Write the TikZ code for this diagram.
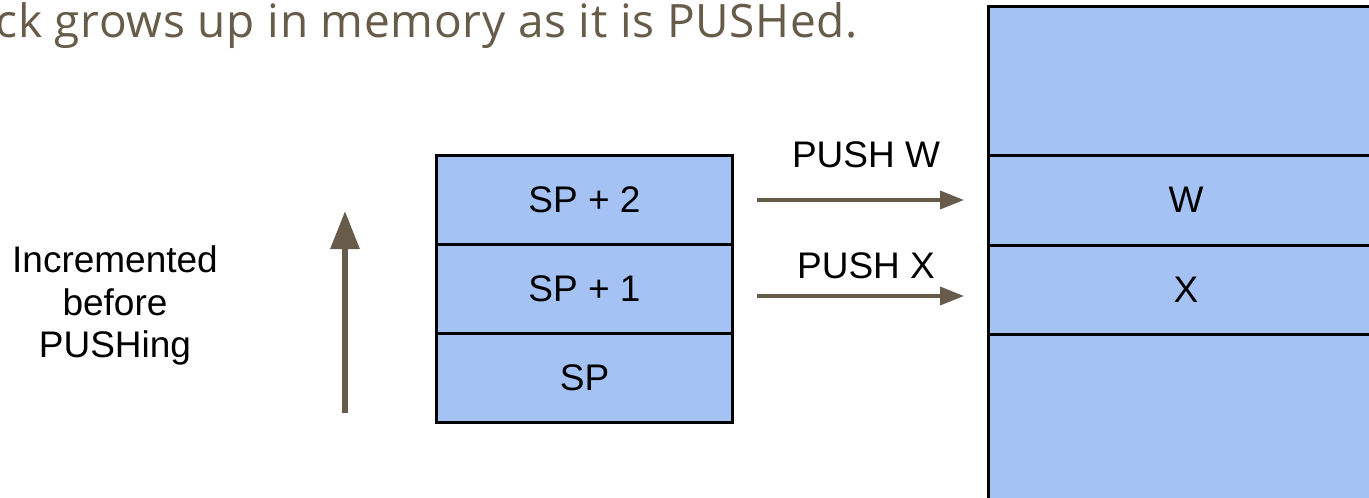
\documentclass[tikz,border=0pt]{standalone}
\usepackage{fontspec}
\setmainfont{Liberation Sans}
\newfontfamily\titlefont[LetterSpace=1.5]{Open Sans}
\usetikzlibrary{arrows.meta}
\definecolor{cellblue}{HTML}{A4C2F4}
\definecolor{brownarrow}{HTML}{675C49}
\tikzset{
  cell/.style={draw=black, line width=3pt, fill=cellblue, minimum width=296pt, inner sep=0pt, font=\fontsize{37}{37}\selectfont},
  bigcell/.style={draw=black, line width=3pt, fill=cellblue, minimum width=420pt, inner sep=0pt, font=\fontsize{37}{37}\selectfont},
  pusharrow/.style={draw=brownarrow, line width=3.5pt, -{Triangle[length=24pt,width=18pt]}},
  uparrow/.style={draw=brownarrow, line width=6pt, -{Triangle[length=38pt,width=28pt]}},
  lbl/.style={font=\fontsize{37}{42.5}\selectfont, inner sep=0pt},
}
\begin{document}
\begin{tikzpicture}[x=1pt,y=-1pt]
\useasboundingbox (0,0) rectangle (1369,498);
\clip (0,0) rectangle (1369,498);
\fill[white] (0,0) rectangle (1369,498);
% title
\node[anchor=base east, inner sep=0pt, text=brownarrow, font=\titlefont\fontsize{46}{54}\selectfont] (title) at (858,37) {ck grows up in memory as it is PUSHed.};
% left stack
\node[cell, minimum height=89pt] (sp2) at (584.5,199.5) {SP + 2};
\node[cell, minimum height=89pt] (sp1) at (584.5,289) {SP + 1};
\node[cell, minimum height=89pt] (sp0) at (584.5,378) {SP};
% right stack
\node[bigcell, minimum height=149pt] (top) at (1198,80.5) {};
\node[bigcell, minimum height=90pt] (w) at (1198,200) {};
\node[bigcell, minimum height=89pt] (x) at (1198,289.5) {};
\node[bigcell, minimum height=190pt] (bot) at (1198,429) {};
\node[lbl] (wl) at (1186,200) {W};
\node[lbl] (xl) at (1186,289.5) {X};
% left text
\node[lbl, align=center] (inc) at (115,305.5) {Incremented\\before\\PUSHing};
% up arrow
\coordinate (ua) at (345,413);
\coordinate (ub) at (345,211);
\draw[uparrow] (ua) -- (ub);
% push arrows
\coordinate (wa) at (757,200);
\coordinate (wb) at (964,200);
\coordinate (xa) at (757,296);
\coordinate (xb) at (964,296);
\draw[pusharrow] (wa) -- (wb);
\draw[pusharrow] (xa) -- (xb);
\node[lbl, anchor=base] (pw) at (866,167) {PUSH W};
\node[lbl, anchor=base] (px) at (866,278) {PUSH X};
\end{tikzpicture}
\end{document}
